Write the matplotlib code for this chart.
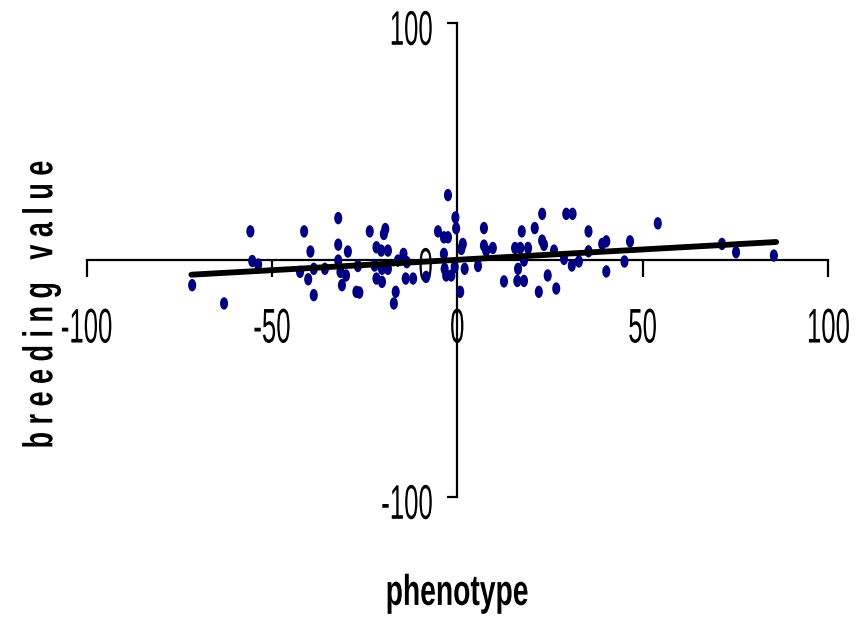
import numpy as np
import matplotlib
matplotlib.use("Agg")
import matplotlib.pyplot as plt
from matplotlib.path import Path
from matplotlib.transforms import Affine2D, ScaledTranslation
from matplotlib.patheffects import AbstractPathEffect

plt.rcParams["font.family"] = ["Liberation Sans", "DejaVu Sans"]
plt.rcParams["axes.unicode_minus"] = False

# phenotype (x) and breeding value (y)
phenotype = [
    -71.5, -62.9, -55.8, -55.3, -53.7, -41.3, -39.6, -42.4, -40.2, -38.7,
    -38.7, -35.7, -32.1, -32.1, -29.5, -32.1, -31.5, -30.0, -31.1, -27.2,
    -26.4, -26.8, -23.6, -19.4, -19.8, -21.8, -20.5, -18.7, -22.3, -20.3,
    -18.7, -21.8, -20.3, -16.6, -17.1, -16.0, -14.5, -13.6, -13.9, -11.9,
    -8.4, -5.2, -3.6, -2.5, -3.6, -2.5, -0.5, -0.3, -3.4, -3.0,
    -1.6, -0.7, 0.8, 1.5, 1.1, 2.0, 5.6, 7.2, 7.2, 7.8,
    9.6, 12.6, 15.6, 17.0, 19.1, 16.4, 16.2, 18.0, 17.4, 18.0,
    20.9, 22.9, 22.9, 23.4, 22.0, 24.4, 26.1, 26.7, 29.4, 31.1,
    28.8, 30.9, 32.8, 35.4, 35.4, 39.1, 40.2, 40.2, 45.1, 46.6,
    54.1, 71.4, 75.2, 85.4,
]
breeding_value = [
    -10.5, -18.2, 12.2, -0.3, -1.8, 12.2, 3.7, -4.9, -8.0, -14.7,
    -3.6, -3.6, 17.8, 6.6, 3.7, -0.1, -4.9, -6.4, -10.5, -13.3,
    -13.6, -2.4, 12.2, 13.2, 11.1, 5.5, 4.1, 4.1, -2.2, -3.6,
    -3.6, -7.7, -9.1, -13.3, -18.2, -0.1, 2.7, -0.8, -7.7, -7.7,
    -7.0, 12.2, 9.7, 9.7, 2.7, 27.5, 18.1, 13.5, -3.6, -6.4,
    -6.4, -2.8, -13.3, 6.9, 4.8, -3.6, -2.4, 13.6, 6.2, 4.1,
    5.2, -8.9, 5.2, 5.2, 5.2, -3.6, -8.7, -8.7, 12.2, -0.1,
    13.6, 19.6, 8.3, 6.5, -13.3, -6.4, 4.1, -11.9, 19.6, 19.6,
    0.6, -2.2, -0.5, 12.2, 3.8, 6.9, 8.0, -4.7, -0.5, 8.0,
    15.6, 6.9, 3.4, 2.0,
]

# trend line
slope = 0.0875
intercept = 0.2

x_ticks = [-100, -50, 0, 50, 100]
y_ticks = [-100, 0, 100]


class Squeeze(AbstractPathEffect):
    """Draw text narrower, like the condensed font of the original."""

    def __init__(self, sx=1.0, anchor="center", width_px=None):
        super().__init__()
        self.sx = sx
        self.anchor = anchor
        self.width_px = width_px

    def draw_path(self, renderer, gc, tpath, affine, rgbFace=None):
        ext = tpath.get_extents()
        sx = self.sx
        if self.width_px is not None:
            a, b = affine.get_matrix()[0, 0], affine.get_matrix()[1, 0]
            sx = self.width_px / (ext.width * np.hypot(a, b))
        x0 = {"left": ext.x0, "center": (ext.x0 + ext.x1) / 2,
              "right": ext.x1}[self.anchor]
        squeeze = Affine2D().translate(-x0, 0).scale(sx, 1).translate(x0, 0)
        renderer.draw_path(gc, tpath, squeeze + affine, rgbFace)


# tall oval marker like the original
oval = Path.unit_circle().transformed(Affine2D().scale(0.65, 1.0))

fig = plt.figure(figsize=(8.58, 6.17), dpi=100)
ax = fig.add_axes([86.5 / 858, 1 - 497.3 / 617, 741.5 / 858, 474 / 617])

ax.scatter(phenotype, breeding_value, marker=oval, s=80, color="#000080",
           edgecolors="none", zorder=3)

line_x = np.array([min(phenotype) - 0.2, max(phenotype) + 0.6])
ax.plot(line_x, slope * line_x + intercept, color="black", lw=4.2,
        solid_capstyle="round", zorder=4)

ax.set_xlim(-100, 100)
ax.set_ylim(-100, 100)
ax.spines["left"].set_position(("data", 0))
ax.spines["bottom"].set_position(("data", 0))
ax.spines["right"].set_visible(False)
ax.spines["top"].set_visible(False)
for s in ("left", "bottom"):
    ax.spines[s].set_linewidth(1.6)

ax.set_xticks(x_ticks)
ax.set_yticks(y_ticks)
ax.tick_params(axis="x", direction="out", length=12, width=1.6,
               labelsize=35, pad=22)
ax.tick_params(axis="y", direction="out", length=7, width=1.6,
               labelsize=35, pad=10)

for t in ax.xaxis.get_major_ticks():
    t.label1.set_path_effects([Squeeze(0.53, "center")])
shift_down = ScaledTranslation(0, -4 / 100, fig.dpi_scale_trans)
for t in ax.yaxis.get_major_ticks():
    t.label1.set_path_effects([Squeeze(0.53, "right")])
    t.label1.set_transform(t.label1.get_transform() + shift_down)

ax.set_xlabel("phenotype", fontsize=31, fontweight="bold", va="baseline",
              path_effects=[Squeeze(width_px=140)])
ax.xaxis.set_label_coords(0.499, -0.227)

ylab = " ".join("breeding") + "   " + " ".join("value")
ax.set_ylabel(ylab, fontsize=30, fontweight="bold",
              path_effects=[Squeeze(width_px=285)])
ax.yaxis.set_label_coords(-0.034, 0.407)

fig.savefig("out.png", dpi=100)
